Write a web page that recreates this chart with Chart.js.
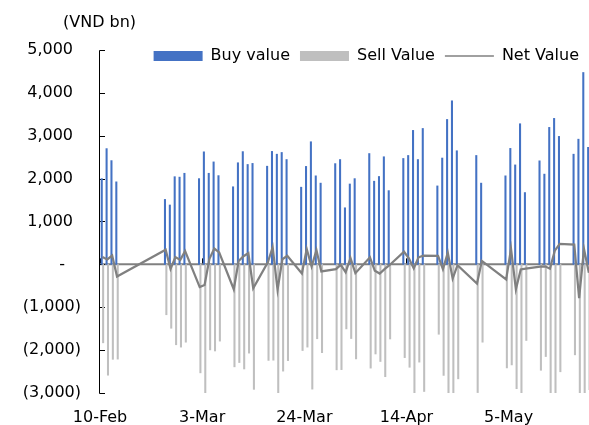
<!DOCTYPE html>
<html>
<head>
<meta charset="utf-8">
<title>Buy / Sell / Net value</title>
<script src="https://cdn.jsdelivr.net/npm/chart.js@4.4.1/dist/chart.umd.min.js"></script>
<style>
  html, body { margin: 0; padding: 0; background: #fff; }
  #wrap { width: 589px; height: 425px; position: relative; }
</style>
</head>
<body>
<div id="wrap"><canvas id="flowChart"></canvas></div>
<script>
// Trading days shown on the chart
const dates = [
    '2026-02-10', '2026-02-11', '2026-02-12', '2026-02-13',
    '2026-02-23', '2026-02-24', '2026-02-25', '2026-02-26', '2026-02-27',
    '2026-03-02', '2026-03-03', '2026-03-04', '2026-03-05', '2026-03-06',
    '2026-03-09', '2026-03-10', '2026-03-11', '2026-03-12', '2026-03-13',
    '2026-03-16', '2026-03-17', '2026-03-18', '2026-03-19', '2026-03-20',
    '2026-03-23', '2026-03-24', '2026-03-25', '2026-03-26', '2026-03-27',
    '2026-03-30', '2026-03-31', '2026-04-01', '2026-04-02', '2026-04-03',
    '2026-04-06', '2026-04-07', '2026-04-08', '2026-04-09', '2026-04-10',
    '2026-04-13', '2026-04-14', '2026-04-15', '2026-04-16', '2026-04-17',
    '2026-04-20', '2026-04-21', '2026-04-22', '2026-04-23', '2026-04-24',
    '2026-04-28', '2026-04-29',
    '2026-05-04', '2026-05-05', '2026-05-06', '2026-05-07', '2026-05-08',
    '2026-05-11', '2026-05-12', '2026-05-13', '2026-05-14', '2026-05-15',
    '2026-05-18', '2026-05-19', '2026-05-20', '2026-05-21'
];

// Values in VND bn
const buyValue = [
    2000, 2700, 2420, 1925,
    1515, 1385, 2045, 2035, 2125,
    2000, 2625, 2125, 2390, 2070,
    1810, 2370, 2630, 2330, 2355,
    2290, 2635, 2570, 2610, 2445,
    1800, 2285, 2860, 2065, 1895,
    2350, 2445, 1320, 1875, 2000,
    2585, 1940, 2050, 2510, 1720,
    2470, 2540, 3125, 2445, 3170,
    1830, 2480, 3380, 3815, 2650,
    2540, 1895,
    2065, 2705, 2320, 3280, 1675,
    2415, 2105, 3195, 3405, 2985,
    2570, 2920, 4475, 2730
];
const sellValue = [
    -1830, -2585, -2215, -2210,
    -1175, -1490, -1875, -1930, -1815,
    -2530, -3105, -1995, -2020, -1790,
    -2390, -2290, -2440, -2070, -2915,
    -2240, -2235, -3160, -2490, -2245,
    -2010, -1930, -2910, -1735, -2060,
    -2460, -2455, -1505, -1730, -2205,
    -2420, -2090, -2265, -2620, -1740,
    -2175, -2400, -3215, -2280, -2965,
    -1630, -2590, -3110, -4145, -2670,
    -2990, -1815,
    -2415, -2345, -2900, -3400, -1775,
    -2470, -2150, -3295, -3085, -2505,
    -2110, -3705, -4115, -2925
];
const netValue = [
    170, 115, 205, -285,
    340, -105, 170, 105, 310,
    -530, -480, 130, 370, 280,
    -580, 80, 190, 260, -560,
    50, 400, -590, 120, 200,
    -210, 355, -50, 330, -165,
    -110, -10, -185, 145, -205,
    165, -150, -215, -110, -20,
    295, 140, -90, 165, 205,
    200, -110, 270, -330, -20,
    -450, 80,
    -350, 360, -580, -120, -100,
    -55, -45, -100, 320, 480,
    460, -785, 360, -195
];

// Axis ticks
const yTicks = [-3000, -2000, -1000, 0, 1000, 2000, 3000, 4000, 5000];
const xTickDates = ['2026-02-10', '2026-03-03', '2026-03-24', '2026-04-14', '2026-05-05'];
const MONTHS = ['Jan', 'Feb', 'Mar', 'Apr', 'May', 'Jun', 'Jul', 'Aug', 'Sep', 'Oct', 'Nov', 'Dec'];
const START = Date.UTC(2026, 1, 10);
const FONT = "'DejaVu Sans', Verdana, sans-serif";

// day number counted from the first date
function dayIndex(iso) {
    const [y, m, d] = iso.split('-').map(Number);
    return Math.round((Date.UTC(y, m - 1, d) - START) / 86400000);
}

function dayLabel(idx) {
    const dt = new Date(START + Math.round(idx) * 86400000);
    return dt.getUTCDate() + '-' + MONTHS[dt.getUTCMonth()];
}

// accounting style: 1,000 / (1,000) / -
function yLabel(v) {
    if (v === 0) return '-\u2002\u2002';
    const s = Math.abs(v).toLocaleString('en-US');
    return v < 0 ? '(' + s + ')' : s + '\u2002';
}

const points = vals => dates.map((d, i) => ({ x: dayIndex(d), y: vals[i] }));

// axis lines, inward tick marks, unit caption; legend sits inside the plot
const axisDecor = {
    id: 'axisDecor',
    afterLayout(chart) {
        const lg = chart.legend;
        const shift = 37;
        lg.top += shift;
        lg.bottom += shift;
    },
    beforeDatasetsDraw(chart) {
        const { ctx, scales: { x, y } } = chart;
        const zero = y.getPixelForValue(0);
        const axisX = x.left - 0.5;
        ctx.save();
        ctx.strokeStyle = '#808080';
        ctx.lineWidth = 2;
        ctx.beginPath();
        ctx.moveTo(axisX, zero);
        ctx.lineTo(x.right, zero);
        ctx.stroke();

        ctx.strokeStyle = '#000';
        ctx.lineWidth = 1;
        ctx.beginPath();
        const yTop = Math.round(y.getPixelForValue(yTicks[yTicks.length - 1])) + 0.5;
        const yBot = Math.round(y.getPixelForValue(yTicks[0])) + 0.5;
        ctx.moveTo(axisX, yTop);
        ctx.lineTo(axisX, yBot);
        yTicks.forEach(v => {
            const py = Math.round(y.getPixelForValue(v)) + 0.5;
            ctx.moveTo(axisX, py);
            ctx.lineTo(axisX + 5.5, py);
        });
        xTickDates.forEach(d => {
            const px = Math.round(x.getPixelForValue(dayIndex(d) - 0.5)) + 0.5;
            ctx.moveTo(px, zero - 6);
            ctx.lineTo(px, zero - 1);
        });
        ctx.stroke();

        ctx.fillStyle = '#000';
        ctx.font = '16px ' + FONT;
        ctx.textBaseline = 'middle';
        ctx.textAlign = 'left';
        ctx.fillText('(VND bn)', 63, 22.5);
        ctx.restore();
    }
};

Chart.defaults.font.family = FONT;
Chart.defaults.font.size = 16;
Chart.defaults.color = '#000';

new Chart(document.getElementById('flowChart'), {
    type: 'bar',
    data: {
        datasets: [{
            label: 'Buy value',
            data: points(buyValue),
            backgroundColor: '#4472C4',
            barThickness: 1.4,
            borderWidth: 0,
            clip: 0,
            order: 1
        }, {
            label: 'Sell Value',
            data: points(sellValue),
            backgroundColor: '#BFBFBF',
            barThickness: 1.4,
            borderWidth: 0,
            clip: 0,
            order: 1
        }, {
            type: 'line',
            label: 'Net Value',
            data: points(netValue),
            borderColor: '#808080',
            backgroundColor: '#808080',
            borderWidth: 2.25,
            pointRadius: 0,
            tension: 0,
            fill: false,
            clip: 0,
            order: 0
        }]
    },
    options: {
        responsive: true,
        maintainAspectRatio: false,
        animation: false,
        layout: { padding: { left: 0, right: 0, top: 1, bottom: 0 }, autoPadding: false },
        plugins: {
            title: { display: false },
            legend: {
                position: 'top',
                align: 'end',
                labels: {
                    usePointStyle: true,
                    pointStyleWidth: 49,
                    boxHeight: 10,
                    padding: 10,
                    color: '#000',
                    sort: (a, b) => a.datasetIndex - b.datasetIndex,
                    generateLabels(chart) {
                        const items = Chart.defaults.plugins.legend.labels.generateLabels(chart);
                        return items.map(item => {
                            const isLine = chart.data.datasets[item.datasetIndex].type === 'line';
                            item.pointStyle = isLine ? 'line' : 'rect';
                            item.lineWidth = isLine ? 1.5 : 0;
                            item.strokeStyle = isLine ? '#808080' : item.fillStyle;
                            return item;
                        });
                    }
                }
            },
            tooltip: { enabled: false }
        },
        scales: {
            x: {
                type: 'linear',
                min: -0.5,
                max: 100.03,
                offset: false,
                grid: { display: false, drawTicks: false },
                border: { display: false },
                afterBuildTicks: s => { s.ticks = xTickDates.map(d => ({ value: dayIndex(d) - 0.5 })); },
                afterFit: s => { s.height = 32; },
                ticks: {
                    padding: 15,
                    autoSkip: false,
                    maxRotation: 0,
                    callback: v => dayLabel(v + 0.5)
                }
            },
            y: {
                min: -3000,
                max: 5303,
                grid: { display: false, drawTicks: false },
                border: { display: false },
                afterBuildTicks: s => { s.ticks = yTicks.map(v => ({ value: v })); },
                afterFit: s => { s.width = 100; },
                ticks: { padding: 19, callback: yLabel }
            }
        }
    },
    plugins: [axisDecor]
});
</script>
</body>
</html>
